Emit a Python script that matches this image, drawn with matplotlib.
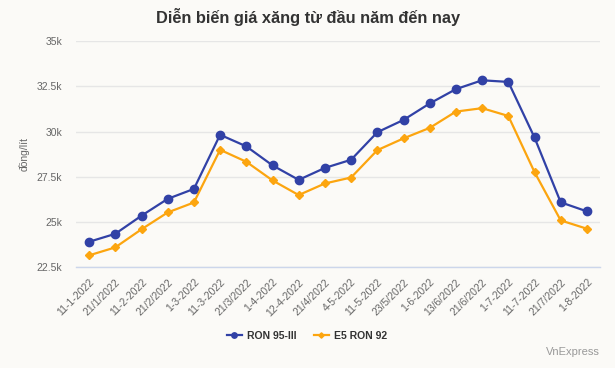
import matplotlib
matplotlib.use("Agg")
import matplotlib.pyplot as plt
import numpy as np

dates = ["11-1-2022", "21/1/2022", "11-2-2022", "21/2/2022", "1-3-2022", "11-3-2022",
         "21/3/2022", "1-4-2022", "12-4-2022", "21/4/2022", "4-5-2022", "11-5-2022",
         "23/5/2022", "1-6-2022", "13/6/2022", "21/6/2022", "1-7-2022", "11-7-2022",
         "21/7/2022", "1-8-2022"]
ron95 = [23910, 24350, 25350, 26280, 26830, 29820, 29180, 28130, 27330, 27990,
         28440, 29960, 30640, 31550, 32340, 32830, 32740, 29670, 26090, 25590]
e5ron92 = [23160, 23600, 24600, 25530, 26080, 28990, 28330, 27300, 26490, 27130,
           27460, 28970, 29620, 30200, 31100, 31290, 30860, 27760, 25090, 24630]
yticks = [22500, 25000, 27500, 30000, 32500, 35000]
ytick_labels = ["22.5k", "25k", "27.5k", "30k", "32.5k", "35k"]

plt.rcParams['font.family'] = ['Liberation Sans', 'DejaVu Sans']
bg = "#fbfaf7"
W, H = 615, 368
fig = plt.figure(figsize=(W/100, H/100), dpi=100, facecolor=bg)
ax = fig.add_axes([76/W, 1-267.3/H, (600-76)/W, (267.3-41)/H], facecolor=bg)

x = np.arange(len(dates))
ax.plot(x, ron95, color="#3141a6", lw=1.6, marker="o", ms=6, label="RON 95-III", zorder=3)
ax.plot(x, e5ron92, color="#fca50f", lw=1.6, marker="D", ms=4.2, label="E5 RON 92", zorder=3)

ax.set_xlim(-0.5, len(dates)-0.5)
ax.set_ylim(22500, 35000)
ax.set_yticks(yticks)
ax.set_yticklabels(ytick_labels)
ax.grid(axis="y", color="#e6e6e6", lw=1)
ax.set_axisbelow(True)
for s in ["top", "right", "left"]:
    ax.spines[s].set_visible(False)
ax.spines["bottom"].set_color("#ccd6eb")
ax.spines["bottom"].set_linewidth(1)
ax.tick_params(axis="y", length=0, labelsize=7.5, labelcolor="#666666", pad=10)
ax.set_xticks(x)
ax.set_xticklabels(dates, rotation=45, ha="right", rotation_mode="anchor")
ax.tick_params(axis="x", length=0, labelsize=7.5, labelcolor="#666666", pad=7)
ax.set_ylabel("đồng/lít", fontsize=7.5, color="#666666", labelpad=5)

fig.text(308/W, 1-17/H, "Diễn biến giá xăng từ đầu năm đến nay", ha="center", va="center",
         fontsize=11.8, fontweight="bold", color="#333333")
leg = fig.legend(loc="center", bbox_to_anchor=(307/W, 1-336/H), ncol=2, frameon=False,
                 prop={"weight": "bold", "size": 7.5}, handlelength=1.5, columnspacing=1.6,
                 handletextpad=0.5, markerscale=0.65)
for t in leg.get_texts():
    t.set_color("#333333")
fig.text(600/W, 1-352/H, "VnExpress", ha="right", va="center", fontsize=8, color="#999999")

fig.savefig("out.png", dpi=100, facecolor=bg)
